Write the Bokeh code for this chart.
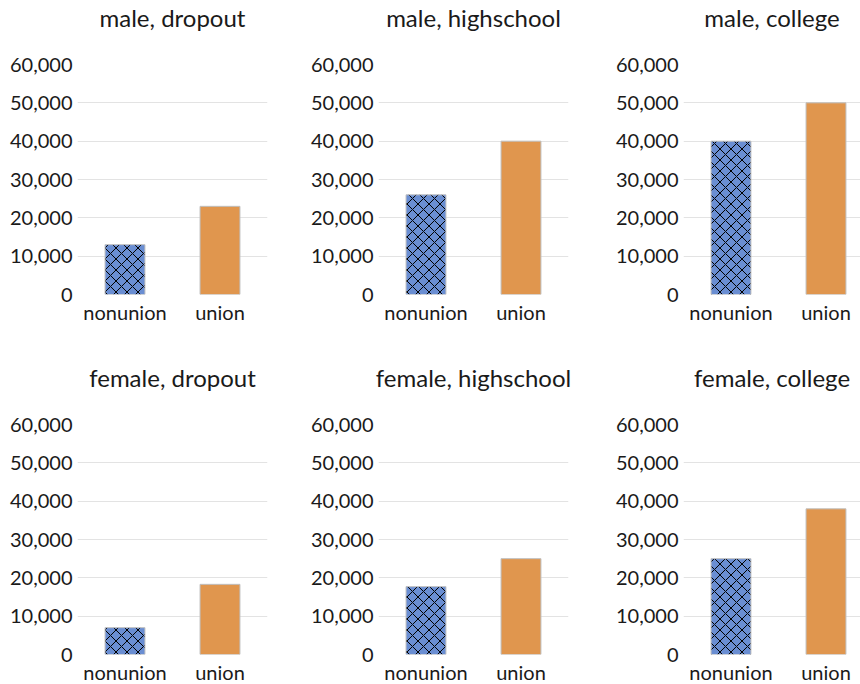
from bokeh.plotting import figure
from bokeh.layouts import column, row
from bokeh.models import Range1d, FixedTicker, NumeralTickFormatter, LinearAxis, Title
from bokeh.embed import file_html
from bokeh.resources import INLINE

# ---- data ----
categories = ["nonunion", "union"]
panel_titles = ["male, dropout", "male, highschool", "male, college",
                "female, dropout", "female, highschool", "female, college"]
nonunion_wage = [13000, 26000, 40000, 7000, 17700, 25000]
union_wage = [23000, 40000, 50000, 18300, 25000, 38000]
y_ticks = [0, 10000, 20000, 30000, 40000, 50000, 60000]
grid_ticks = [10000, 20000, 30000, 40000, 50000]

FONT = "Lato"
TXT = "#1a1a1a"
BLUE = "#6A8ED2"
ORANGE = "#E0964E"

cat_pos = [0.5, 1.5]
FRAME_W = 190
FRAME_H = 230
YMAX = 60000
col_borders = [(77, 35), (76, 36), (79, 0)]
col_frame_w = [190, 190, 177]
row_cfg = [(64, 66), (63, 31)]


def make_panel(idx):
    r, c = divmod(idx, 3)
    left, right = col_borders[c]
    fw = col_frame_w[c]
    top, bottom = row_cfg[r]
    xend = 2.0 * fw / FRAME_W
    p = figure(frame_width=fw, frame_height=FRAME_H,
               x_range=Range1d(0, xend), y_range=Range1d(0, YMAX),
               output_backend="svg", toolbar_location=None,
               min_border_left=left, min_border_right=right,
               min_border_top=top, min_border_bottom=bottom)
    p.outline_line_color = None

    # blank spacer between frame and title
    spacer = LinearAxis(ticker=FixedTicker(ticks=[]), axis_line_color=None,
                        major_tick_line_color=None, minor_tick_line_color=None,
                        major_tick_in=0, major_tick_out=0, minor_tick_out=0,
                        major_label_standoff=0, axis_label=" ",
                        axis_label_standoff=19, axis_label_text_font_size="10px")
    p.add_layout(spacer, "above")
    p.add_layout(Title(text=panel_titles[idx], align="center", standoff=0,
                       text_font=FONT, text_font_size="24px",
                       text_font_style="normal", text_color=TXT), "above")

    p.vbar(x=[cat_pos[0]], top=[nonunion_wage[idx]], bottom=0, width=0.42,
           fill_color=BLUE, line_color="#BFBFBF", line_width=1,
           hatch_pattern="diagonal_cross", hatch_color="black",
           hatch_scale=11, hatch_weight=1)
    p.vbar(x=[cat_pos[1]], top=[union_wage[idx]], bottom=0, width=0.42,
           fill_color=ORANGE, line_color="#BFBFBF", line_width=1)

    p.xgrid.visible = False
    p.ygrid.ticker = FixedTicker(ticks=grid_ticks)
    p.ygrid.grid_line_color = "#E3E3E3"
    p.ygrid.grid_line_width = 1

    p.yaxis.ticker = FixedTicker(ticks=y_ticks)
    p.yaxis.formatter = NumeralTickFormatter(format="0,0")
    p.below[0].ticker = FixedTicker(ticks=cat_pos)
    p.below[0].major_label_overrides = {cat_pos[0]: categories[0], cat_pos[1]: categories[1]}
    for ax in (p.below[0], p.left[0]):
        ax.axis_line_color = None
        ax.major_tick_line_color = None
        ax.minor_tick_line_color = None
        ax.major_tick_out = 0
        ax.major_tick_in = 0
        ax.major_label_text_font = FONT
        ax.major_label_text_font_size = "20px"
        ax.major_label_text_color = TXT
    p.left[0].major_label_standoff = 5
    p.below[0].major_label_standoff = 5
    return p


panels = [make_panel(i) for i in range(6)]
layout = column(row(*panels[:3]), row(*panels[3:]))

open("out.html", "w").write(file_html(layout, INLINE))
